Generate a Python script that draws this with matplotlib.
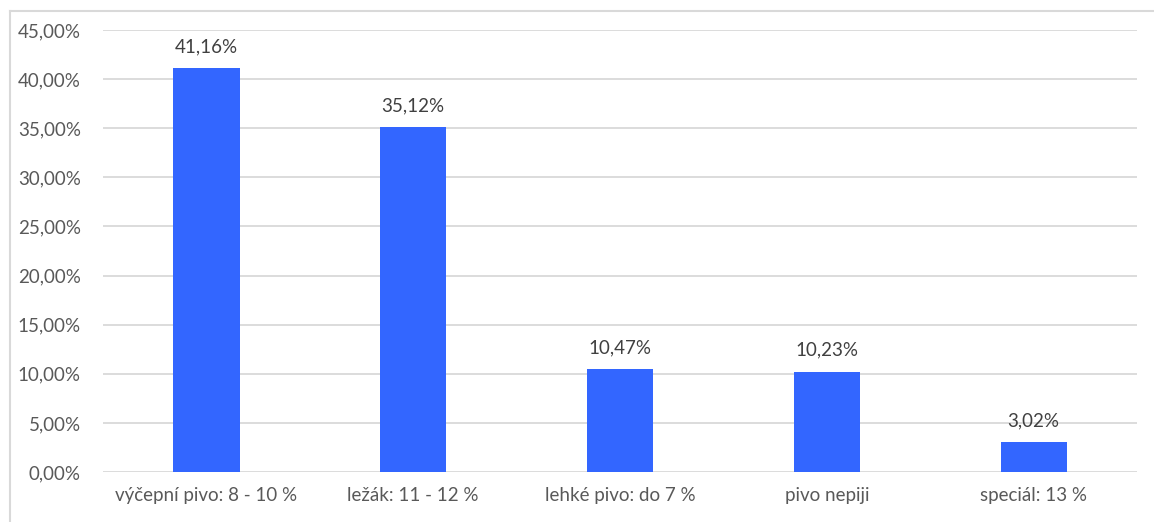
import matplotlib.pyplot as plt
from matplotlib.lines import Line2D
from matplotlib.ticker import FuncFormatter

# Preferred beer types (share of respondents)
categories = ['výčepní pivo: 8 - 10 %', 'ležák: 11 - 12 %', 'lehké pivo: do 7 %',
              'pivo nepiji', 'speciál: 13 %']
shares = [41.16, 35.12, 10.47, 10.23, 3.02]
yticks = [0, 5, 10, 15, 20, 25, 30, 35, 40, 45]

plt.rcParams['font.family'] = ['Lato', 'DejaVu Sans']

fig = plt.figure(figsize=(11.54, 5.22), dpi=100)
ax = fig.add_axes([0.0893, 0.0958, 0.8960, 0.8467])

x = range(len(categories))
ax.bar(x, shares, width=0.32, color='#3366FF', zorder=3)

for xi, v in zip(x, shares):
    ax.text(xi, v + 1.3, f'{v:.2f}%'.replace('.', ','), ha='center', va='bottom',
            fontsize=13.5, color='#404040', zorder=4)

ax.set_xlim(-0.5, len(categories) - 0.5)
ax.set_ylim(0, 45)
ax.set_yticks(yticks)
ax.yaxis.set_major_formatter(FuncFormatter(lambda v, p: f'{v:.2f}%'.replace('.', ',')))
ax.set_xticks(list(x))
ax.set_xticklabels(categories)

ax.grid(axis='y', color='#D9D9D9', linewidth=1.3, zorder=0)
ax.tick_params(axis='both', length=0, labelsize=13.5, labelcolor='#595959')
ax.tick_params(axis='y', pad=16)
ax.tick_params(axis='x', pad=11)
for s in ax.spines.values():
    s.set_visible(False)

# outer chart border (top and left edges)
fig.add_artist(Line2D([10 / 1154, 1], [1 - 11 / 522, 1 - 11 / 522], color='#D9D9D9', linewidth=1.5))
fig.add_artist(Line2D([10 / 1154, 10 / 1154], [0, 1 - 11 / 522], color='#D9D9D9', linewidth=1.5))

fig.savefig('out.png', dpi=100)
